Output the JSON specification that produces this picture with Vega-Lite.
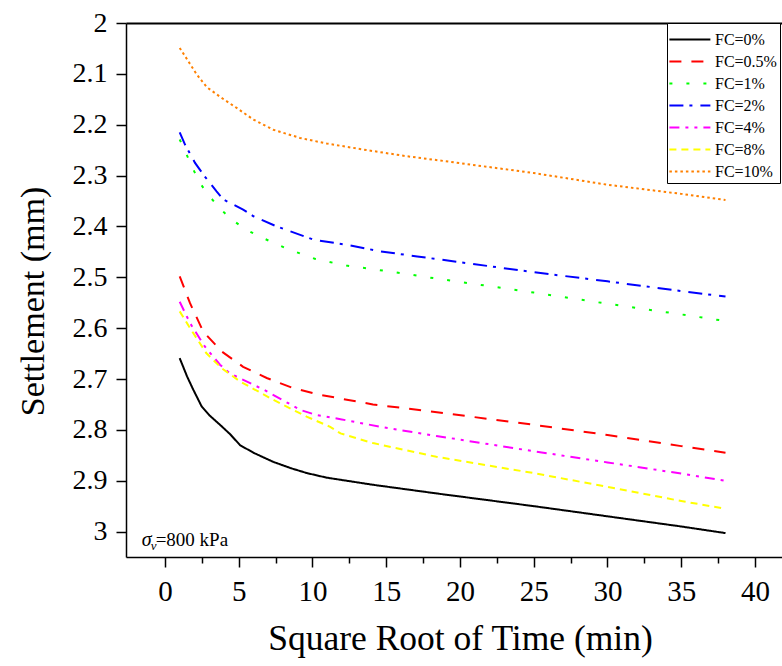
{
  "$schema": "https://vega.github.io/schema/vega-lite/v6.json",
  "autosize": {"type": "none"},
  "padding": {"left": 126, "top": 23, "right": 0, "bottom": 109},
  "width": 656,
  "height": 534,
  "background": "white",
  "config": {
    "view": {"stroke": null},
    "font": "Liberation Serif",
    "axis": {
      "labelFont": "Liberation Serif",
      "titleFont": "Liberation Serif",
      "labelColor": "black",
      "titleColor": "black",
      "domainColor": "black",
      "tickColor": "black",
      "domainWidth": 1.5,
      "tickWidth": 1.5,
      "grid": false,
      "titleFontWeight": "normal"
    },
    "legend": {
      "labelFont": "Liberation Serif",
      "labelFontSize": 16,
      "labelColor": "black"
    }
  },
  "datasets": {
    "settlement": [
      {"fc": "FC=0%", "x": 1, "y": 2.659}, {"fc": "FC=0%", "x": 1.5, "y": 2.695}, {"fc": "FC=0%", "x": 1.92, "y": 2.721}, {"fc": "FC=0%", "x": 2.49, "y": 2.754}, {"fc": "FC=0%", "x": 3.0, "y": 2.771}, {"fc": "FC=0%", "x": 3.73, "y": 2.79}, {"fc": "FC=0%", "x": 4.4, "y": 2.808}, {"fc": "FC=0%", "x": 5.09, "y": 2.83}, {"fc": "FC=0%", "x": 6.0, "y": 2.845}, {"fc": "FC=0%", "x": 7.35, "y": 2.863}, {"fc": "FC=0%", "x": 8.5, "y": 2.875}, {"fc": "FC=0%", "x": 9.62, "y": 2.885}, {"fc": "FC=0%", "x": 10.97, "y": 2.894}, {"fc": "FC=0%", "x": 14.1, "y": 2.908}, {"fc": "FC=0%", "x": 18.67, "y": 2.926}, {"fc": "FC=0%", "x": 25, "y": 2.95}, {"fc": "FC=0%", "x": 30, "y": 2.97}, {"fc": "FC=0%", "x": 35, "y": 2.99}, {"fc": "FC=0%", "x": 38, "y": 3.003},

      {"fc": "FC=0.5%", "x": 1, "y": 2.498}, {"fc": "FC=0.5%", "x": 1.7, "y": 2.551}, {"fc": "FC=0.5%", "x": 2.6, "y": 2.607}, {"fc": "FC=0.5%", "x": 3.85, "y": 2.646}, {"fc": "FC=0.5%", "x": 5.3, "y": 2.676}, {"fc": "FC=0.5%", "x": 6.9, "y": 2.698}, {"fc": "FC=0.5%", "x": 8.7, "y": 2.718}, {"fc": "FC=0.5%", "x": 10.5, "y": 2.731}, {"fc": "FC=0.5%", "x": 14.1, "y": 2.75}, {"fc": "FC=0.5%", "x": 17.8, "y": 2.763}, {"fc": "FC=0.5%", "x": 25, "y": 2.79}, {"fc": "FC=0.5%", "x": 30, "y": 2.81}, {"fc": "FC=0.5%", "x": 35, "y": 2.832}, {"fc": "FC=0.5%", "x": 38, "y": 2.845},

      {"fc": "FC=1%", "x": 1, "y": 2.229}, {"fc": "FC=1%", "x": 1.47, "y": 2.259}, {"fc": "FC=1%", "x": 1.92, "y": 2.288}, {"fc": "FC=1%", "x": 2.38, "y": 2.315}, {"fc": "FC=1%", "x": 2.94, "y": 2.338}, {"fc": "FC=1%", "x": 3.62, "y": 2.361}, {"fc": "FC=1%", "x": 4.37, "y": 2.383}, {"fc": "FC=1%", "x": 5.32, "y": 2.403}, {"fc": "FC=1%", "x": 6.27, "y": 2.418}, {"fc": "FC=1%", "x": 8.2, "y": 2.443}, {"fc": "FC=1%", "x": 10.2, "y": 2.464}, {"fc": "FC=1%", "x": 12.3, "y": 2.477}, {"fc": "FC=1%", "x": 15.6, "y": 2.49}, {"fc": "FC=1%", "x": 17.8, "y": 2.5}, {"fc": "FC=1%", "x": 25, "y": 2.53}, {"fc": "FC=1%", "x": 30, "y": 2.552}, {"fc": "FC=1%", "x": 35, "y": 2.573}, {"fc": "FC=1%", "x": 38, "y": 2.586},

      {"fc": "FC=2%", "x": 1, "y": 2.215}, {"fc": "FC=2%", "x": 1.36, "y": 2.239}, {"fc": "FC=2%", "x": 2.04, "y": 2.275}, {"fc": "FC=2%", "x": 2.6, "y": 2.298}, {"fc": "FC=2%", "x": 3.5, "y": 2.331}, {"fc": "FC=2%", "x": 3.96, "y": 2.347}, {"fc": "FC=2%", "x": 5.3, "y": 2.367}, {"fc": "FC=2%", "x": 6.0, "y": 2.38}, {"fc": "FC=2%", "x": 7.58, "y": 2.4}, {"fc": "FC=2%", "x": 10.07, "y": 2.426}, {"fc": "FC=2%", "x": 12.3, "y": 2.436}, {"fc": "FC=2%", "x": 14.6, "y": 2.449}, {"fc": "FC=2%", "x": 17.1, "y": 2.459}, {"fc": "FC=2%", "x": 25, "y": 2.49}, {"fc": "FC=2%", "x": 30, "y": 2.508}, {"fc": "FC=2%", "x": 35, "y": 2.527}, {"fc": "FC=2%", "x": 38, "y": 2.538},

      {"fc": "FC=4%", "x": 1, "y": 2.548}, {"fc": "FC=4%", "x": 1.7, "y": 2.59}, {"fc": "FC=4%", "x": 2.7, "y": 2.636}, {"fc": "FC=4%", "x": 3.73, "y": 2.672}, {"fc": "FC=4%", "x": 4.4, "y": 2.689}, {"fc": "FC=4%", "x": 6.7, "y": 2.721}, {"fc": "FC=4%", "x": 9.2, "y": 2.761}, {"fc": "FC=4%", "x": 10.3, "y": 2.771}, {"fc": "FC=4%", "x": 11.9, "y": 2.779}, {"fc": "FC=4%", "x": 14.6, "y": 2.794}, {"fc": "FC=4%", "x": 18.4, "y": 2.812}, {"fc": "FC=4%", "x": 25, "y": 2.842}, {"fc": "FC=4%", "x": 30, "y": 2.864}, {"fc": "FC=4%", "x": 35, "y": 2.886}, {"fc": "FC=4%", "x": 38, "y": 2.9},

      {"fc": "FC=8%", "x": 1, "y": 2.567}, {"fc": "FC=8%", "x": 1.7, "y": 2.6}, {"fc": "FC=8%", "x": 2.8, "y": 2.649}, {"fc": "FC=8%", "x": 3.85, "y": 2.679}, {"fc": "FC=8%", "x": 5.1, "y": 2.705}, {"fc": "FC=8%", "x": 7.35, "y": 2.741}, {"fc": "FC=8%", "x": 9.6, "y": 2.774}, {"fc": "FC=8%", "x": 11.2, "y": 2.794}, {"fc": "FC=8%", "x": 11.9, "y": 2.807}, {"fc": "FC=8%", "x": 14.1, "y": 2.826}, {"fc": "FC=8%", "x": 18.4, "y": 2.853}, {"fc": "FC=8%", "x": 25, "y": 2.885}, {"fc": "FC=8%", "x": 30, "y": 2.912}, {"fc": "FC=8%", "x": 35, "y": 2.94}, {"fc": "FC=8%", "x": 38, "y": 2.955},

      {"fc": "FC=10%", "x": 1, "y": 2.049}, {"fc": "FC=10%", "x": 1.58, "y": 2.075}, {"fc": "FC=10%", "x": 2.15, "y": 2.101}, {"fc": "FC=10%", "x": 2.83, "y": 2.126}, {"fc": "FC=10%", "x": 3.73, "y": 2.145}, {"fc": "FC=10%", "x": 4.86, "y": 2.167}, {"fc": "FC=10%", "x": 6.0, "y": 2.19}, {"fc": "FC=10%", "x": 7.35, "y": 2.21}, {"fc": "FC=10%", "x": 9.16, "y": 2.226}, {"fc": "FC=10%", "x": 10.97, "y": 2.237}, {"fc": "FC=10%", "x": 13.7, "y": 2.25}, {"fc": "FC=10%", "x": 16.4, "y": 2.262}, {"fc": "FC=10%", "x": 18.55, "y": 2.27}, {"fc": "FC=10%", "x": 25, "y": 2.295}, {"fc": "FC=10%", "x": 30, "y": 2.318}, {"fc": "FC=10%", "x": 35, "y": 2.336}, {"fc": "FC=10%", "x": 38, "y": 2.348}
    ],
    "note": [
      {"x": -1.58, "y": 3.028, "sigma": "σ", "sub": "v", "rest": "=800 kPa"}
    ]
  },
  "layer": [
    {
      "data": {"name": "settlement"},
      "mark": {"type": "line", "strokeWidth": 2, "clip": true},
      "encoding": {
        "x": {
          "field": "x",
          "type": "quantitative",
          "scale": {"domain": [-2.64, 41.83], "nice": false, "zero": false},
          "axis": {
            "orient": "bottom",
            "title": "Square Root of Time (min)",
            "titleFontSize": 35.5,
            "titlePadding": 15,
            "titleX": 334,
            "labelFontSize": 29,
            "labelPadding": 10,
            "values": [0, 2.5, 5, 7.5, 10, 12.5, 15, 17.5, 20, 22.5, 25, 27.5, 30, 32.5, 35, 37.5, 40],
            "labelExpr": "datum.value % 5 === 0 ? datum.label : ''",
            "tickSize": {"condition": {"test": "datum.value % 5 !== 0", "value": 6}, "value": 10},
            "labelFlush": false,
            "labelOverlap": false
          }
        },
        "y": {
          "field": "y",
          "type": "quantitative",
          "scale": {"domain": [2, 3.05], "reverse": true, "nice": false, "zero": false},
          "axis": {
            "title": "Settlement (mm)",
            "titleFontSize": 34,
            "titlePadding": 22,
            "titleY": 278,
            "labelFontSize": 28,
            "labelPadding": 9,
            "format": ".2~f",
            "values": [2, 2.05, 2.1, 2.15, 2.2, 2.25, 2.3, 2.35, 2.4, 2.45, 2.5, 2.55, 2.6, 2.65, 2.7, 2.75, 2.8, 2.85, 2.9, 2.95, 3, 3.05],
            "labelExpr": "round(datum.value * 100) % 10 === 0 ? datum.label : ''",
            "tickSize": {"condition": {"test": "round(datum.value * 100) % 10 !== 0", "value": 5}, "value": 10},
            "labelFlush": false,
            "labelOverlap": false
          }
        },
        "color": {
          "field": "fc",
          "type": "nominal",
          "sort": ["FC=0%", "FC=0.5%", "FC=1%", "FC=2%", "FC=4%", "FC=8%", "FC=10%"],
          "scale": {
            "domain": ["FC=0%", "FC=0.5%", "FC=1%", "FC=2%", "FC=4%", "FC=8%", "FC=10%"],
            "range": ["#000000", "#ff0000", "#00ff00", "#0000ff", "#ff00ff", "#ffff00", "#ff8000"]
          },
          "legend": {
            "title": null,
            "orient": "none",
            "legendX": 541,
            "legendY": 0,
            "strokeColor": "black",
            "fillColor": "white",
            "padding": 3,
            "symbolType": "M-1.17,0H2.23",
            "symbolSize": 581,
            "symbolStrokeWidth": 2,
            "rowPadding": 0,
            "labelOffset": 18,
            "labelFont": "Liberation Serif",
            "labelFontSize": 16
          }
        },
        "strokeDash": {
          "field": "fc",
          "type": "nominal",
          "sort": ["FC=0%", "FC=0.5%", "FC=1%", "FC=2%", "FC=4%", "FC=8%", "FC=10%"],
          "scale": {
            "domain": ["FC=0%", "FC=0.5%", "FC=1%", "FC=2%", "FC=4%", "FC=8%", "FC=10%"],
            "range": [[1, 0], [12, 10], [3, 14], [14, 6, 3, 8], [10, 6, 3, 6, 3, 6], [7, 5], [2.5, 3]]
          },
          "legend": {
            "title": null,
            "orient": "none",
            "legendX": 541,
            "legendY": 0,
            "strokeColor": "black",
            "fillColor": "white",
            "padding": 3,
            "symbolType": "M-1.17,0H2.23",
            "symbolSize": 581,
            "symbolStrokeWidth": 2,
            "rowPadding": 0,
            "labelOffset": 18,
            "labelFont": "Liberation Serif",
            "labelFontSize": 16
          }
        }
      }
    },
    {
      "data": {"name": "settlement"},
      "mark": {"type": "point", "opacity": 0},
      "encoding": {
        "x": {
          "field": "x",
          "type": "quantitative",
          "axis": {"orient": "top", "labels": false, "ticks": false, "title": null, "domainWidth": 2}
        },
        "y": {"field": "y", "type": "quantitative"}
      }
    },
    {
      "data": {"name": "note"},
      "mark": {"type": "text", "align": "left", "baseline": "alphabetic", "font": "Liberation Serif", "fontSize": 20, "fontStyle": "italic", "color": "black"},
      "encoding": {
        "x": {"field": "x", "type": "quantitative", "axis": null},
        "y": {"field": "y", "type": "quantitative"},
        "text": {"field": "sigma"}
      }
    },
    {
      "data": {"name": "note"},
      "mark": {"type": "text", "align": "left", "baseline": "alphabetic", "font": "Liberation Serif", "fontSize": 13, "fontStyle": "italic", "color": "black", "dx": 9, "dy": 4},
      "encoding": {
        "x": {"field": "x", "type": "quantitative", "axis": null},
        "y": {"field": "y", "type": "quantitative"},
        "text": {"field": "sub"}
      }
    },
    {
      "data": {"name": "note"},
      "mark": {"type": "text", "align": "left", "baseline": "alphabetic", "font": "Liberation Serif", "fontSize": 19, "color": "black", "dx": 14},
      "encoding": {
        "x": {"field": "x", "type": "quantitative", "axis": null},
        "y": {"field": "y", "type": "quantitative"},
        "text": {"field": "rest"}
      }
    }
  ],
  "resolve": {"axis": {"x": "independent"}}
}
